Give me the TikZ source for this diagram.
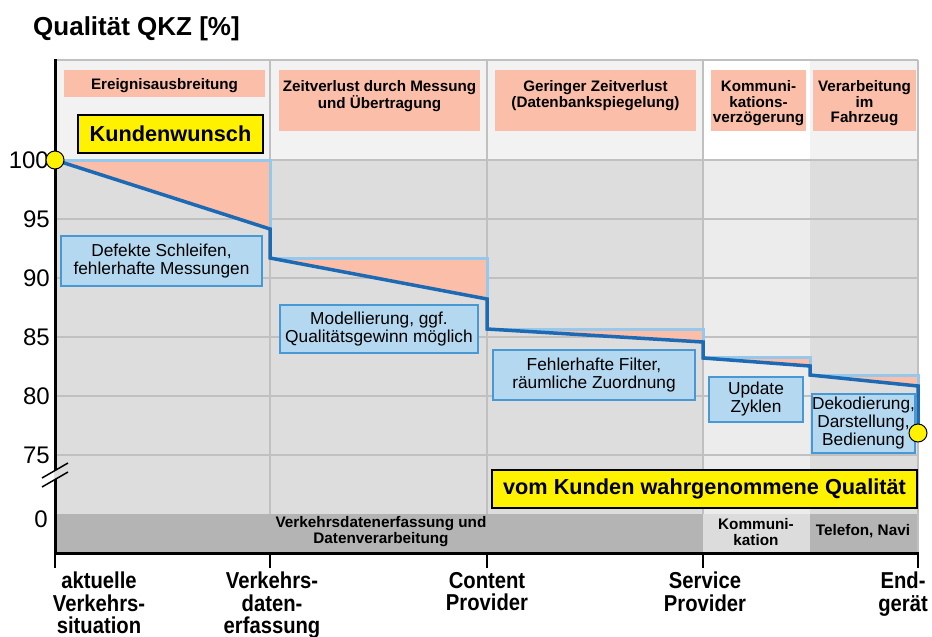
\documentclass[tikz,border=0pt]{standalone}
\usepackage{fontspec}
\setmainfont{Liberation Sans}
\newfontfamily\narrowsans[FakeStretch=0.88]{Liberation Sans}

\definecolor{hdrgray}{RGB}{242,242,242}
\definecolor{plotgray}{RGB}{221,221,221}
\definecolor{plotlight}{RGB}{236,236,236}
\definecolor{bandgray}{RGB}{180,180,180}
\definecolor{bandlight}{RGB}{220,220,220}
\definecolor{gridgray}{RGB}{192,192,192}
\definecolor{salmon}{RGB}{251,190,168}
\definecolor{qblue}{RGB}{28,106,180}
\definecolor{qlight}{RGB}{150,200,236}
\definecolor{noteblue}{RGB}{180,216,240}
\definecolor{noteedge}{RGB}{72,152,212}
\definecolor{signyellow}{RGB}{255,242,0}

\tikzset{
  gridline/.style={gridgray, line width=1.2pt},
  hdrbox/.style={fill=salmon, inner sep=0, anchor=north west},
  hdrtext/.style={font=\fontsize{15.2}{15.8}\selectfont\bfseries, align=center, inner sep=0},
  notebox/.style={fill=noteblue, draw=noteedge, line width=1.2pt, inner sep=0,
    align=center, font=\fontsize{17.3}{18}\selectfont},
  signbox/.style={fill=signyellow, draw=black, line width=1.5pt, inner sep=0,
    font=\fontsize{21.7}{22}\selectfont\bfseries},
  bandtext/.style={font=\fontsize{15.3}{16}\selectfont\bfseries, align=center, inner sep=0},
  stagelabel/.style={font=\narrowsans\bfseries\fontsize{23}{22.5}\selectfont, align=center,
    inner sep=0, anchor=north},
  ylabel/.style={font=\fontsize{24}{24}\selectfont, inner sep=0, anchor=east},
  qdot/.style={circle, fill=signyellow, draw=black, line width=1pt, minimum size=18pt, inner sep=0},
}

\begin{document}
\begin{tikzpicture}[x=1pt,y=-1pt]
\useasboundingbox (0,0) rectangle (932,637);
\fill[white] (0,0) rectangle (932,637);

% title
\node[font=\fontsize{26}{26}\selectfont\bfseries, inner sep=0, anchor=base west] (title) at (33,35) {Qualität QKZ [\%]};

% backgrounds: header row, chart area, bottom band
\fill[hdrgray] (55,60) rectangle (918,160);
\fill[white] (703,60) rectangle (810,160);
\fill[plotgray] (55,160) rectangle (918,514);
\fill[plotlight] (703,160) rectangle (810,514);
\fill[bandgray] (55,514) rectangle (918,553);
\fill[bandlight] (703,514) rectangle (810,553);

% grid
\draw[gridline] (55,60) -- (918,60);
\foreach \y in {160,219,278,337,396,455} \draw[gridline] (55,\y) -- (918,\y);
\foreach \x in {270,487,703,918} \draw[gridline] (\x,60) -- (\x,514);
\draw[gridline] (918,514) -- (918,553);

% quality losses per stage
\fill[salmon] (55,160) -- (270,160) -- (270,229) -- cycle;
\fill[salmon] (270,258) -- (487,258) -- (487,299) -- cycle;
\fill[salmon] (487,329) -- (703,329) -- (703,342) -- cycle;
\fill[salmon] (703,357) -- (810,357) -- (810,366) -- cycle;
\fill[salmon] (810,375) -- (918,375) -- (918,386) -- cycle;

% reachable quality (stepped) and actual quality
\draw[qlight, line width=3pt] (55,160) -- (270,160) -- (270,258) -- (487,258) -- (487,329)
  -- (703,329) -- (703,357) -- (810,357) -- (810,375) -- (918,375) -- (918,386);
\draw[qblue, line width=3.5pt] (55,160) -- (270,229) -- (270,258) -- (487,299) -- (487,329)
  -- (703,342) -- (703,358) -- (810,366) -- (810,375) -- (918,386) -- (918,433);

% header boxes
\node[hdrbox, minimum width=201pt, minimum height=27pt] (h1) at (64,70) {};
\node[hdrbox, minimum width=201pt, minimum height=61pt] (h2) at (279,70) {};
\node[hdrbox, minimum width=201pt, minimum height=61pt] (h3) at (495,70) {};
\node[hdrbox, minimum width=95pt, minimum height=61pt] (h4) at (711,70) {};
\node[hdrbox, minimum width=103pt, minimum height=61pt] (h5) at (813,70) {};
\node[hdrtext, anchor=base] (t1) at (164.5,89) {Ereignisausbreitung};
\node[hdrtext, anchor=north] (t2) at (379.5,80) {Zeitverlust durch Messung\\und Übertragung};
\node[hdrtext, anchor=north] (t3) at (595.5,80) {Geringer Zeitverlust\\(Datenbankspiegelung)};
\node[hdrtext, anchor=north] (t4) at (758.5,80) {Kommuni-\\kations-\\verzögerung};
\node[hdrtext, anchor=north] (t5) at (864.5,80) {Verarbeitung\\im\\Fahrzeug};

% customer boxes
\node[signbox, minimum width=185pt, minimum height=38pt] (wish) at (170.5,134) {Kundenwunsch};
\node[signbox, minimum width=425pt, minimum height=38pt] (perceived) at (704.5,489) {vom Kunden wahrgenommene Qualität};

% causes of loss
\node[notebox, minimum width=201pt, minimum height=50pt] (n1) at (161.5,261) {Defekte Schleifen,\\fehlerhafte Messungen};
\node[notebox, minimum width=198pt, minimum height=48pt] (n2) at (379,329) {Modellierung, ggf.\\Qualitätsgewinn möglich};
\node[notebox, minimum width=202pt, minimum height=50pt] (n3) at (594,375) {Fehlerhafte Filter,\\räumliche Zuordnung};
\node[notebox, minimum width=94pt, minimum height=45pt] (n4) at (756,399.5) {Update\\Zyklen};
\node[notebox, minimum width=101pt, minimum height=59pt] (n5) at (863.5,423.5) {Dekodierung,\\Darstellung,\\Bedienung};

% bottom band labels
\node[bandtext] (b1) at (381,532) {Verkehrsdatenerfassung und\\Datenverarbeitung};
\node[bandtext] (b2) at (756,532) {Kommuni-\\kation};
\node[bandtext] (b3) at (863,531) {Telefon, Navi};

% axes
\draw[line width=3pt] (55,59) -- (55,553);
\draw[line width=3pt] (53.5,553) -- (919,553);
\foreach \x in {55,270,487,703,918} \draw[line width=2pt] (\x,553) -- (\x,568);
% axis break
\fill[plotgray] (42,478) -- (68,463) -- (68,472) -- (42,487) -- cycle;
\fill[white] (42,478) -- (54,471) -- (54,480) -- (42,487) -- cycle;
\draw[line width=1.5pt] (42,478) -- (68,463);
\draw[line width=1.5pt] (42,487) -- (68,472);

% y labels
\node[ylabel] (y100) at (49,160) {100};
\node[ylabel] (y95) at (50,219) {95};
\node[ylabel] (y90) at (50,278) {90};
\node[ylabel] (y85) at (50,337) {85};
\node[ylabel] (y80) at (50,396) {80};
\node[ylabel] (y75) at (50,455) {75};
\node[ylabel] (y0) at (48,519) {0};

% start and end markers
\node[qdot] (qstart) at (55,160) {};
\node[qdot] (qend) at (918,433) {};

% stages of the chain
\node[stagelabel] (s1) at (99,572) {aktuelle\\Verkehrs-\\situation};
\node[stagelabel] (s2) at (272,572) {Verkehrs-\\daten-\\erfassung};
\node[stagelabel] (s3) at (487,572) {Content\\Provider};
\node[stagelabel] (s4) at (705,572) {Service\\Provider};
\node[stagelabel] (s5) at (903,572) {End-\\gerät};
\end{tikzpicture}
\end{document}
